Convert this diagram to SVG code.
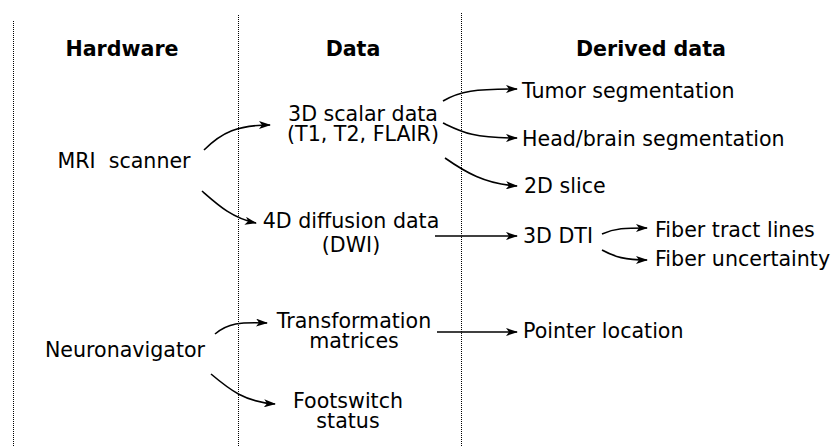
<svg xmlns="http://www.w3.org/2000/svg" width="838" height="446" viewBox="0 0 838 446">
<style>
text{font-family:"DejaVu Sans",sans-serif;font-size:20.6px;fill:#000;white-space:pre}
.h{font-weight:bold}
.m{text-anchor:middle}
.sep{stroke:#000;stroke-width:1;stroke-dasharray:1,1;fill:none}
.c{stroke:#000;stroke-width:1.6;fill:none;marker-end:url(#ah)}
</style>
<defs>
<marker id="ah" viewBox="0 0 12 8" refX="11" refY="4" markerWidth="12" markerHeight="8" markerUnits="userSpaceOnUse" orient="auto">
<path d="M0,0 L12,4 L0,8 L3,4 z" fill="#000"/>
</marker>
</defs>
<g id="separators">
<line class="sep" x1="13.5" y1="21" x2="13.5" y2="446"/>
<line class="sep" x1="238.5" y1="15" x2="238.5" y2="446"/>
<line class="sep" x1="461.5" y1="13" x2="461.5" y2="446"/>
</g>
<g id="headers">
<text class="h m" x="122" y="56">Hardware</text>
<text class="h m" x="353" y="56">Data</text>
<text class="h m" x="651" y="56">Derived data</text>
</g>
<g id="mri"><text class="m" x="124" y="168">MRI  scanner</text></g>
<g id="neuronav"><text class="m" x="125" y="357">Neuronavigator</text></g>
<g id="scalar"><text class="m" x="363" y="121">3D scalar data<tspan x="363" dy="20">(T1, T2, FLAIR)</tspan></text></g>
<g id="diffusion"><text class="m" x="351" y="228">4D diffusion data<tspan x="351" dy="24">(DWI)</tspan></text></g>
<g id="transform"><text class="m" x="354" y="328">Transformation<tspan x="354" dy="20">matrices</tspan></text></g>
<g id="footswitch"><text class="m" x="348" y="408">Footswitch<tspan x="348" dy="20">status</tspan></text></g>
<g id="tumor"><text x="522" y="98">Tumor segmentation</text></g>
<g id="headbrain"><text x="522" y="146">Head/brain segmentation</text></g>
<g id="slice"><text x="524" y="193">2D slice</text></g>
<g id="dti"><text x="523" y="243">3D DTI</text></g>
<g id="tract"><text x="655" y="237">Fiber tract lines</text></g>
<g id="uncert"><text x="655" y="266">Fiber uncertainty</text></g>
<g id="pointer"><text x="523" y="338">Pointer location</text></g>
<g id="connectors">
<path class="c" d="M204,150 C222,132 238,125 270,125"/>
<path class="c" d="M202,191 C218,205 232,218 256,223"/>
<path class="c" d="M443,101 C460,91 475,89 517,89"/>
<path class="c" d="M443,123 C462,132 472,138 517,138"/>
<path class="c" d="M445,158 C465,172 485,184 517,186"/>
<path class="c" d="M435,236 L517,236"/>
<path class="c" d="M602,234 C615,228 625,228 647,228"/>
<path class="c" d="M602,250 C615,257 625,260 647,260"/>
<path class="c" d="M437,332 L517,332"/>
<path class="c" d="M215,334 C228,323 240,322 267,323"/>
<path class="c" d="M211,374 C230,390 245,402 275,404"/>
</g>
</svg>
